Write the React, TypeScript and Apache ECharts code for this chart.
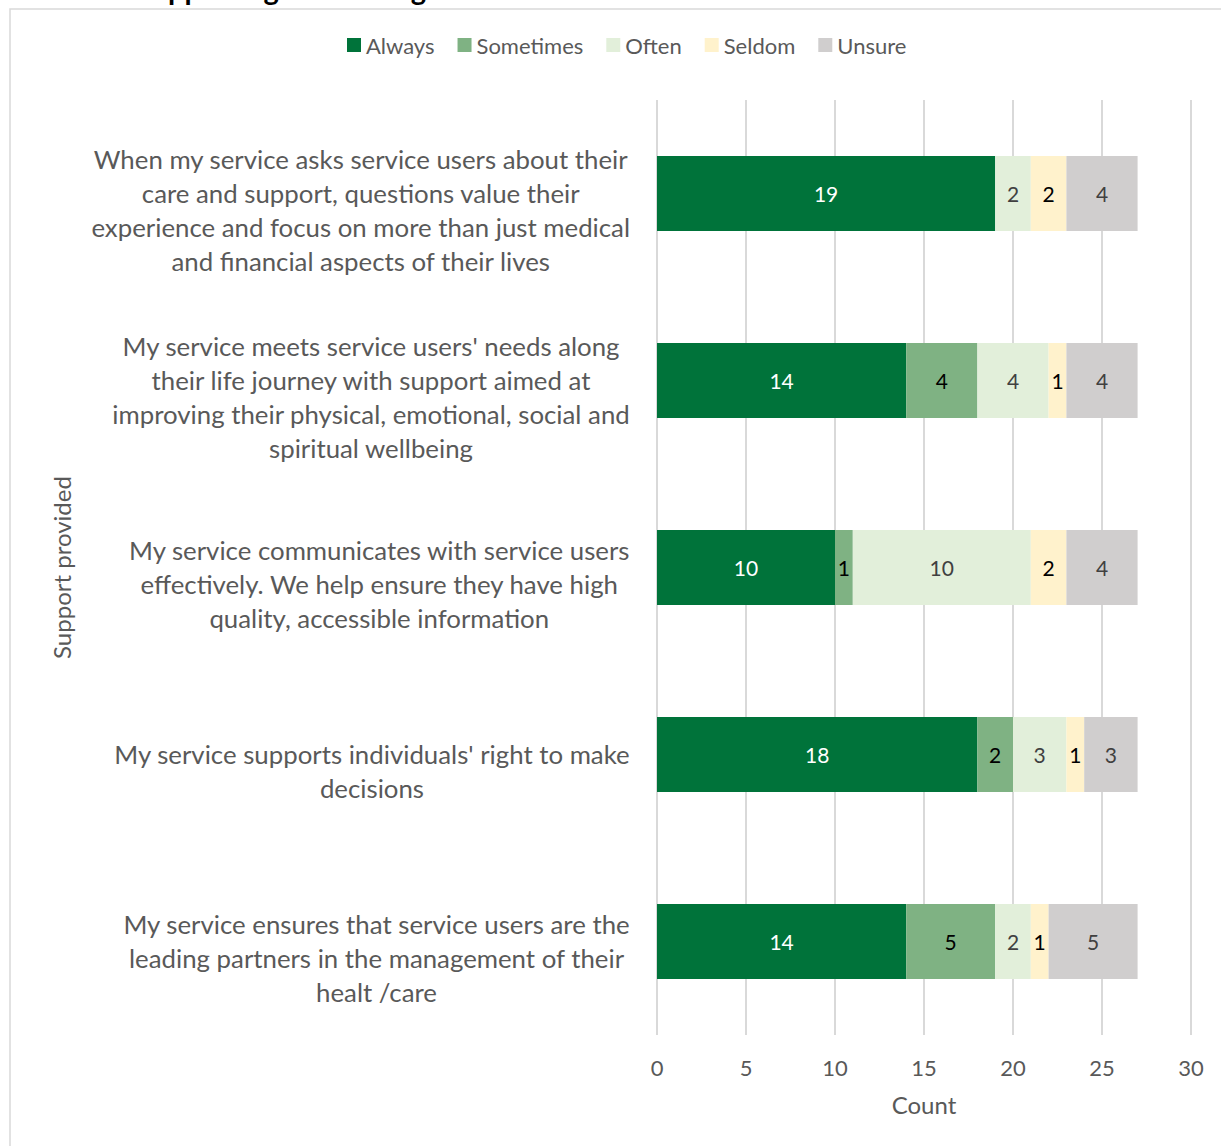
import React, { useEffect, useRef } from "react";
import * as echarts from "echarts";

const categories = [
  "When my service asks service users about their\ncare and support, questions value their\nexperience and focus on more than just medical\nand financial aspects of their lives",
  "My service meets service users' needs along\ntheir life journey with support aimed at\nimproving their physical, emotional, social and\nspiritual wellbeing",
  "My service communicates with service users\neffectively. We help ensure they have high\nquality, accessible information",
  "My service supports individuals' right to make\ndecisions",
  "My service ensures that service users are the\nleading partners in the management of their\nhealt /care",
];

const seriesNames = ["Always", "Sometimes", "Often", "Seldom", "Unsure"];
const always = [19, 14, 10, 18, 14];
const sometimes = [null, 4, 1, 2, 5];
const often = [2, 4, 10, 3, 2];
const seldom = [2, 1, 2, 1, 1];
const unsure = [4, 4, 4, 3, 5];
const xTicks = [0, 5, 10, 15, 20, 25, 30];

const colors = ["#00733A", "#7FB283", "#E2EFDA", "#FFF2CC", "#D0CECE"];
const labelColors = ["#FFFFFF", "#000000", "#404040", "#000000", "#404040"];
const FONT = "Lato";

export default function App() {
  const ref = useRef<HTMLDivElement>(null);
  useEffect(() => {
    if (!ref.current) return;
    const chart = echarts.init(ref.current, null, { renderer: "svg" });
    const values = [always, sometimes, often, seldom, unsure];
    chart.setOption({
      animation: false,
      textStyle: { fontFamily: FONT },
      graphic: [
        {
          type: "rect",
          shape: { x: 10, y: 9, width: 1400, height: 1400 },
          style: { fill: "none", stroke: "#D9D9D9", lineWidth: 1.5 },
          silent: true,
        },
        {
          type: "text",
          x: 136,
          y: 2.5,
          style: {
            text: "Supporting Well-being",
            font: `bold 29px ${FONT}`,
            fill: "#000000",
            verticalAlign: "bottom",
            align: "left",
          },
        },
      ],
      legend: {
        top: 29,
        left: 342,
        itemWidth: 14,
        itemHeight: 14,
        itemGap: 23,
        icon: "rect",
        textStyle: { fontSize: 22, color: "#595959", fontFamily: FONT },
        data: seriesNames,
      },
      grid: { left: 657, right: 30, top: 100, bottom: 111, containLabel: false },
      xAxis: {
        type: "value",
        min: 0,
        max: xTicks[xTicks.length - 1],
        interval: 5,
        name: "Count",
        nameLocation: "middle",
        nameGap: 57,
        nameTextStyle: { fontSize: 24, color: "#595959", fontFamily: FONT },
        axisLine: { show: false },
        axisTick: { show: false },
        axisLabel: { fontSize: 22, color: "#595959", margin: 21, fontFamily: FONT },
        splitLine: { show: true, lineStyle: { color: "#D9D9D9", width: 2 } },
      },
      yAxis: {
        type: "category",
        data: categories,
        inverse: true,
        name: "Support provided",
        nameLocation: "middle",
        nameGap: 584,
        nameTextStyle: { fontSize: 24, color: "#595959", fontFamily: FONT },
        axisLine: { show: false },
        axisTick: { show: false },
        splitLine: { show: false },
        axisLabel: {
          margin: 27,
          align: "right",
          padding: [33, 0, 0, 0],
          formatter: (v: string) =>
            v
              .split("\n")
              .map((l) => `{c|${l}}`)
              .join("\n"),
          rich: {
            c: {
              align: "center",
              fontSize: 25.8,
              lineHeight: 34,
              color: "#595959",
              fontFamily: FONT,
            },
          },
        },
      },
      series: seriesNames.map((name, i) => ({
        name,
        type: "bar",
        stack: "total",
        barWidth: "40%",
        data: values[i],
        itemStyle: { color: colors[i] },
        label: {
          show: true,
          position: "inside",
          color: labelColors[i],
          fontSize: 21,
          fontFamily: FONT,
        },
      })),
    });
    return () => chart.dispose();
  }, []);
  return (
    <div
      ref={ref}
      style={{ position: "absolute", left: 0, top: 0, width: 1221, height: 1146 }}
    />
  );
}
